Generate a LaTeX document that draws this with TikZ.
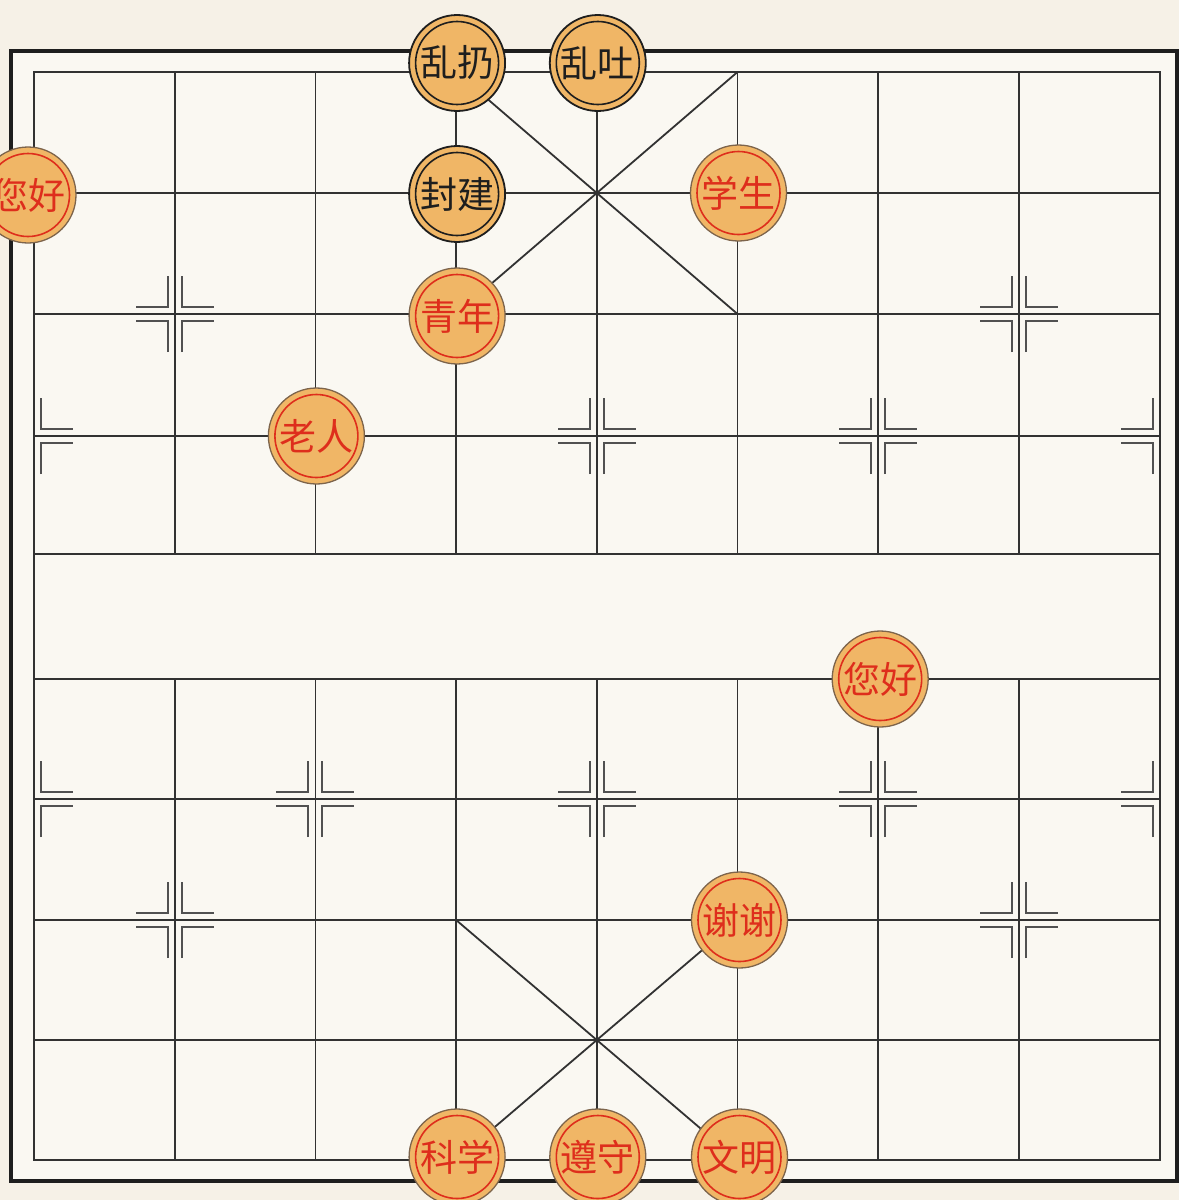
\documentclass[tikz,border=0pt]{standalone}
\usepackage{fontspec}
\newfontfamily\cjk{Noto Sans CJK SC}
\usepackage{tikz}
\usetikzlibrary{calc}

\definecolor{sfondo}{RGB}{246,241,231}
\definecolor{tavola}{RGB}{250,248,242}
\definecolor{legno}{RGB}{240,182,102}
\definecolor{bordo}{RGB}{125,100,75}
\definecolor{rosso}{RGB}{222,46,28}
\definecolor{nero}{RGB}{30,30,30}
\definecolor{linea}{RGB}{50,50,50}

% segni di cannoni e pedoni
\newcommand{\segnodx}[1]{%
  \draw[segno] ($(#1)+(7,-38)$) -- ($(#1)+(7,-7)$) -- ($(#1)+(39,-7)$);
  \draw[segno] ($(#1)+(7,38)$) -- ($(#1)+(7,7)$) -- ($(#1)+(39,7)$);}
\newcommand{\segnosx}[1]{%
  \draw[segno] ($(#1)+(-7,-38)$) -- ($(#1)+(-7,-7)$) -- ($(#1)+(-39,-7)$);
  \draw[segno] ($(#1)+(-7,38)$) -- ($(#1)+(-7,7)$) -- ($(#1)+(-39,7)$);}

\begin{document}
\begin{tikzpicture}[x=1pt, y=-1pt,
  griglia/.style={draw=linea, line width=1.8pt},
  segno/.style={draw=linea!85, line width=2pt},
  pezzo/.style={circle, minimum size=96pt, inner sep=0pt, fill=legno,
    draw=bordo, line width=1.3pt, font=\cjk\fontsize{37}{37}\selectfont},
  rosso pezzo/.style={pezzo, text=rosso,
    path picture={\draw[rosso, line width=1.6pt]
      (path picture bounding box.center) circle (41.5pt);}},
  nero pezzo/.style={pezzo, text=nero, draw=nero, line width=1.8pt,
    path picture={\draw[nero, line width=1.6pt]
      (path picture bounding box.center) circle (41.5pt);}}]

  % sfondo
  \useasboundingbox (0,0) rectangle (1179,1200);
  \fill[sfondo] (0,0) rectangle (1179,1200);
  \fill[tavola] (11,51) rectangle (1177,1181);
  \draw[nero, line width=4pt] (11,51) rectangle (1177,1181);

  % punti della griglia
  \foreach \j/\y in {0/72,1/193,2/314,3/436,4/554,5/679,6/799,7/920,8/1040,9/1160}
    \foreach \i in {0,...,8}
      \coordinate (g\i\j) at ({34+140.7*\i},\y);

  % righe e colonne
  \foreach \j in {1,...,8}
    \draw[griglia] (g0\j) -- (g8\j);
  \foreach \i in {1,...,7} {
    \draw[griglia] (g\i0) -- (g\i4);
    \draw[griglia] (g\i5) -- (g\i9);
  }
  \draw[linea, line width=2.2pt] (g00) rectangle (g89);

  % palazzi
  \draw[griglia] (g30) -- (g52) (g50) -- (g32);
  \draw[griglia] (g37) -- (g59) (g57) -- (g39);

  % segni
  \foreach \p in {g12,g72,g23,g43,g63,g26,g46,g66,g17,g77} {
    \segnodx{\p}
    \segnosx{\p}
  }
  \segnodx{g03} \segnosx{g83}
  \segnodx{g06} \segnosx{g86}

  % pezzi neri
  \node[nero pezzo] (luanreng) at ($(g30)+(1,-9)$) {乱扔};
  \node[nero pezzo] (luantu) at ($(g40)+(1,-9)$) {乱吐};
  \node[nero pezzo] (fengjian) at ($(g31)+(1,1)$) {封建};

  % pezzi rossi
  \node[rosso pezzo] (ninhaoA) at ($(g01)+(-6,2)$) {您好};
  \node[rosso pezzo] (xuesheng) at ($(g51)+(1,0)$) {学生};
  \node[rosso pezzo] (qingnian) at ($(g32)+(1,2)$) {青年};
  \node[rosso pezzo] (laoren) at ($(g23)+(1,0)$) {老人};
  \node[rosso pezzo] (ninhaoB) at ($(g65)+(2,0)$) {您好};
  \node[rosso pezzo] (xiexie) at ($(g57)+(2,0)$) {谢谢};
  \node[rosso pezzo] (kexue) at ($(g39)+(1,-3)$) {科学};
  \node[rosso pezzo] (zunshou) at ($(g49)+(1,-3)$) {遵守};
  \node[rosso pezzo] (wenming) at ($(g59)+(2,-3)$) {文明};
\end{tikzpicture}
\end{document}
